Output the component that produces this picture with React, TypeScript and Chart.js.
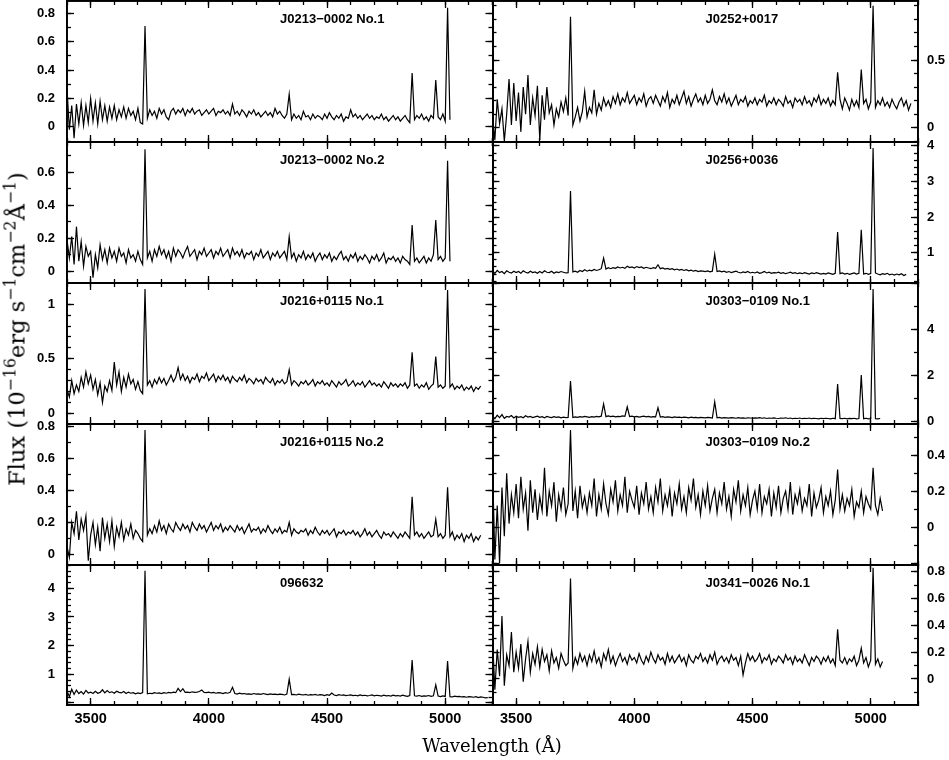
import React, { useEffect, useRef } from "react";
import { Chart, registerables } from "chart.js";
Chart.register(...registerables);

const PAGE_W = 949;
const PAGE_H = 760;

// wavelength sampling of every spectrum (Angstrom)
const WL_START = 3400;
const WL_STEP = 10;
const X_MIN = 3400;
const X_MAX = 5200;
const X_TICK_VALUES = [3500, 4000, 4500, 5000];
const X_MINOR = 100;

const TITLES = [
  "J0213\u22120002 No.1",
  "J0213\u22120002 No.2",
  "J0216+0115 No.1",
  "J0216+0115 No.2",
  "096632",
  "J0252+0017",
  "J0256+0036",
  "J0303\u22120109 No.1",
  "J0303\u22120109 No.2",
  "J0341\u22120026 No.1",
];

// each row = 100 A (10 samples), first row starts at 3400 A
const FLUX_J0213_1 = [
  0.27, -0.02, 0.15, -0.08, 0.16, 0.02, 0.17, 0.01, 0.15, 0.03,
  0.20, 0.04, 0.17, 0.02, 0.18, 0.05, 0.15, 0.04, 0.14, 0.06,
  0.15, 0.05, 0.12, 0.07, 0.14, 0.06, 0.13, 0.08, 0.11, 0.05,
  0.13, 0.03, 0.02, 0.71, 0.06, 0.12, 0.08, 0.11, 0.06, 0.13,
  0.09, 0.12, 0.07, 0.05, 0.11, 0.13, 0.09, 0.12, 0.10, 0.13,
  0.08, 0.12, 0.10, 0.13, 0.09, 0.11, 0.12, 0.08, 0.10, 0.12,
  0.09, 0.11, 0.13, 0.08, 0.11, 0.10, 0.12, 0.09, 0.11, 0.08,
  0.16, 0.09, 0.11, 0.08, 0.12, 0.10, 0.07, 0.11, 0.09, 0.12,
  0.08, 0.10, 0.07, 0.09, 0.11, 0.08, 0.10, 0.07, 0.13, 0.09,
  0.11, 0.08, 0.06, 0.09, 0.23, 0.05, 0.09, 0.06, 0.08, 0.05,
  0.11, 0.07, 0.08, 0.05, 0.09, 0.06, 0.08, 0.07, 0.05, 0.09,
  0.06, 0.10, 0.07, 0.05, 0.08, 0.06, 0.09, 0.04, 0.07, 0.06,
  0.12, 0.07, 0.09, 0.06, 0.08, 0.05, 0.07, 0.09, 0.06, 0.08,
  0.05, 0.07, 0.06, 0.09, 0.05, 0.07, 0.04, 0.06, 0.08, 0.05,
  0.07, 0.04, 0.06, 0.08, 0.05, 0.03, 0.38, 0.05, 0.08, 0.06,
  0.09, 0.05, 0.07, 0.04, 0.08, 0.06, 0.33, 0.07, 0.05, 0.09,
  0.04, 0.84, 0.05,
];

const FLUX_J0213_2 = [
  0.19, 0.08, 0.21, 0.04, 0.27, 0.06, 0.18, 0.03, 0.15, 0.09,
  0.12, -0.04, 0.10, 0.02, 0.16, 0.07, 0.13, 0.05, 0.14, 0.08,
  0.12, 0.06, 0.14, 0.09, 0.11, 0.05, 0.13, 0.08, 0.10, 0.06,
  0.12, 0.07, 0.04, 0.74, 0.08, 0.12, 0.06, 0.13, 0.09, 0.15,
  0.10, 0.13, 0.08, 0.12, 0.06, 0.14, 0.09, 0.13, 0.11, 0.08,
  0.12, 0.15, 0.09, 0.11, 0.13, 0.07, 0.12, 0.10, 0.14, 0.09,
  0.11, 0.13, 0.08, 0.12, 0.10, 0.14, 0.09, 0.11, 0.13, 0.08,
  0.14, 0.10, 0.12, 0.09, 0.13, 0.08, 0.11, 0.10, 0.12, 0.07,
  0.11, 0.09, 0.13, 0.08, 0.10, 0.12, 0.07, 0.11, 0.09, 0.12,
  0.08, 0.10, 0.12, 0.07, 0.21, 0.08, 0.11, 0.06, 0.10, 0.08,
  0.12, 0.07, 0.10, 0.08, 0.11, 0.06, 0.09, 0.11, 0.07, 0.10,
  0.08, 0.11, 0.06, 0.09, 0.07, 0.10, 0.12, 0.07, 0.09, 0.06,
  0.10, 0.08, 0.11, 0.06, 0.09, 0.07, 0.10, 0.08, 0.05, 0.09,
  0.07, 0.10, 0.06, 0.08, 0.11, 0.05, 0.08, 0.07, 0.09, 0.06,
  0.08, 0.05, 0.09, 0.07, 0.06, 0.04, 0.28, 0.06, 0.08, 0.05,
  0.07, 0.09, 0.05, 0.08, 0.06, 0.10, 0.31, 0.07, 0.09, 0.06,
  0.08, 0.67, 0.06,
];

const FLUX_J0216_1 = [
  0.22, 0.15, 0.30, 0.18, 0.26, 0.20, 0.33, 0.24, 0.38, 0.27,
  0.35, 0.22, 0.31, 0.17, 0.28, 0.10, 0.25, 0.20, 0.30, 0.21,
  0.47, 0.26, 0.38, 0.20, 0.33, 0.24, 0.36, 0.27, 0.31, 0.22,
  0.29, 0.21, 0.18, 1.14, 0.26, 0.30, 0.24, 0.31, 0.27, 0.33,
  0.28, 0.32, 0.26, 0.30, 0.35, 0.29, 0.33, 0.42, 0.31, 0.36,
  0.30, 0.34, 0.28, 0.33, 0.31, 0.36, 0.29, 0.34, 0.32, 0.37,
  0.30, 0.33, 0.36, 0.29, 0.34, 0.31, 0.35, 0.30, 0.33, 0.28,
  0.34, 0.31, 0.29, 0.33, 0.30, 0.35, 0.28, 0.32, 0.30, 0.27,
  0.32, 0.29, 0.31, 0.27, 0.33, 0.30, 0.28, 0.32, 0.26, 0.30,
  0.28, 0.31, 0.27, 0.29, 0.40, 0.26, 0.30, 0.28, 0.25, 0.29,
  0.27, 0.30, 0.26, 0.28, 0.31, 0.25, 0.29, 0.27, 0.30, 0.26,
  0.28, 0.25, 0.30, 0.27, 0.24, 0.29, 0.26, 0.28, 0.31, 0.25,
  0.27, 0.30, 0.25, 0.28, 0.26, 0.29, 0.24, 0.27, 0.30, 0.26,
  0.28, 0.25, 0.27, 0.24, 0.29, 0.26, 0.23, 0.28, 0.25, 0.27,
  0.24, 0.27, 0.25, 0.28, 0.23, 0.26, 0.56, 0.25, 0.27, 0.23,
  0.26, 0.24, 0.28, 0.22, 0.25, 0.27, 0.52, 0.24, 0.26, 0.23,
  0.25, 1.13, 0.24, 0.27, 0.22, 0.25, 0.23, 0.26, 0.21, 0.24,
  0.22, 0.25, 0.20, 0.24, 0.22, 0.25,
];

const FLUX_J0216_2 = [
  0.05, -0.02, 0.20, 0.13, 0.27, 0.09, 0.22, 0.15, 0.24, -0.04,
  0.12, 0.20, 0.06, 0.17, 0.02, 0.23, 0.10, 0.19, 0.08, 0.21,
  0.05, 0.17, 0.11, 0.20, 0.09, 0.16, 0.12, 0.19, 0.10, 0.15,
  0.13, 0.10, 0.08, 0.78, 0.12, 0.16, 0.13, 0.18, 0.14, 0.21,
  0.15, 0.18, 0.13, 0.19, 0.16, 0.14, 0.20, 0.17, 0.15, 0.19,
  0.16, 0.18, 0.14, 0.20, 0.17, 0.15, 0.19, 0.16, 0.18, 0.14,
  0.17, 0.20, 0.15, 0.18, 0.16, 0.19, 0.14, 0.17, 0.15, 0.18,
  0.16, 0.14, 0.18, 0.15, 0.17, 0.13, 0.16, 0.19, 0.14, 0.16,
  0.15, 0.17, 0.13, 0.16, 0.14, 0.18, 0.15, 0.13, 0.16, 0.14,
  0.17, 0.13, 0.15, 0.14, 0.20, 0.12, 0.16, 0.14, 0.13, 0.15,
  0.14, 0.16, 0.12, 0.15, 0.13, 0.17, 0.14, 0.12, 0.15, 0.13,
  0.15, 0.12, 0.14, 0.16, 0.11, 0.14, 0.13, 0.15, 0.12, 0.14,
  0.13, 0.15, 0.12, 0.14, 0.11, 0.13, 0.16, 0.12, 0.14, 0.11,
  0.13, 0.15, 0.12, 0.10, 0.14, 0.12, 0.13, 0.11, 0.14, 0.12,
  0.10, 0.13, 0.11, 0.14, 0.12, 0.10, 0.36, 0.12, 0.14, 0.11,
  0.13, 0.10, 0.12, 0.14, 0.11, 0.12, 0.22, 0.11, 0.13, 0.10,
  0.12, 0.42, 0.11, 0.14, 0.09, 0.12, 0.10, 0.13, 0.08, 0.12,
  0.10, 0.13, 0.08, 0.11, 0.09, 0.12,
];

const FLUX_096632 = [
  0.42, 0.22, 0.48, 0.30, 0.45, 0.33, 0.40, 0.31, 0.44, 0.35,
  0.38, 0.33, 0.41, 0.34, 0.37, 0.46, 0.35, 0.43, 0.36, 0.39,
  0.34, 0.41, 0.37, 0.35, 0.40, 0.33, 0.38, 0.34, 0.36, 0.32,
  0.35, 0.33, 0.36, 4.61, 0.32, 0.34, 0.33, 0.36, 0.34, 0.35,
  0.33, 0.36, 0.34, 0.37, 0.35, 0.38, 0.36, 0.51, 0.40, 0.50,
  0.37, 0.38, 0.36, 0.39, 0.37, 0.38, 0.40, 0.45, 0.37, 0.36,
  0.38, 0.35, 0.37, 0.34, 0.36, 0.35, 0.33, 0.36, 0.34, 0.37,
  0.55, 0.33, 0.31, 0.34, 0.32, 0.33, 0.31, 0.32, 0.30, 0.33,
  0.31, 0.32, 0.30, 0.33, 0.31, 0.29, 0.32, 0.30, 0.31, 0.29,
  0.31, 0.30, 0.28, 0.31, 0.83, 0.29, 0.30, 0.28, 0.31, 0.29,
  0.28, 0.30, 0.27, 0.29, 0.28, 0.30, 0.27, 0.29, 0.28, 0.26,
  0.29, 0.27, 0.35, 0.28, 0.26, 0.29, 0.27, 0.28, 0.26, 0.27,
  0.28, 0.26, 0.27, 0.25, 0.28, 0.26, 0.27, 0.25, 0.26, 0.28,
  0.25, 0.27, 0.26, 0.24, 0.27, 0.25, 0.26, 0.24, 0.27, 0.25,
  0.26, 0.24, 0.27, 0.25, 0.23, 0.26, 1.50, 0.25, 0.24, 0.26,
  0.23, 0.25, 0.24, 0.26, 0.23, 0.25, 0.63, 0.24, 0.22, 0.25,
  0.23, 1.46, 0.22, 0.21, 0.24, 0.22, 0.23, 0.21, 0.22, 0.20,
  0.22, 0.21, 0.20, 0.22, 0.19, 0.21, 0.20, 0.18, 0.19,
];

const FLUX_J0252 = [
  0.08, -0.09, 0.21, 0.03, 0.14, -0.10, 0.10, 0.36, 0.02, 0.33,
  0.05, 0.26, -0.03, 0.30, 0.10, 0.39, 0.02, 0.22, 0.09, 0.31,
  -0.09, 0.24, 0.06, 0.30, 0.11, 0.17, 0.02, 0.14, 0.08, 0.19,
  0.12, 0.22, 0.09, 0.82, 0.02, 0.08, 0.15, 0.05, 0.12, 0.27,
  0.08, 0.15, 0.11, 0.28, 0.10, 0.18, 0.13, 0.22, 0.16, 0.20,
  0.15, 0.23, 0.18, 0.25, 0.17, 0.22, 0.19, 0.26, 0.18, 0.21,
  0.24, 0.17, 0.22, 0.19, 0.25, 0.16, 0.21, 0.23, 0.18, 0.24,
  0.20, 0.16, 0.23, 0.19, 0.26, 0.15, 0.21, 0.18, 0.24, 0.17,
  0.22, 0.27, 0.18, 0.23, 0.16, 0.21, 0.25, 0.19, 0.22, 0.17,
  0.24, 0.18, 0.21, 0.28, 0.20, 0.17, 0.23, 0.19, 0.25, 0.18,
  0.22, 0.16, 0.20, 0.24, 0.17, 0.21, 0.19, 0.23, 0.16, 0.20,
  0.18, 0.22, 0.17, 0.21, 0.19, 0.24, 0.16, 0.20, 0.18, 0.22,
  0.17, 0.21, 0.19, 0.16, 0.23, 0.18, 0.20, 0.15, 0.22, 0.19,
  0.21, 0.17, 0.23, 0.18, 0.20, 0.16, 0.22, 0.19, 0.24, 0.17,
  0.21, 0.18, 0.22, 0.16, 0.20, 0.17, 0.41, 0.21, 0.14, 0.22,
  0.18, 0.13, 0.21, 0.16, 0.20, 0.15, 0.43, 0.18, 0.21, 0.14,
  0.19, 0.90, 0.15, 0.20, 0.17, 0.22, 0.16, 0.19, 0.15, 0.21,
  0.17, 0.14, 0.19, 0.22, 0.16, 0.20, 0.13, 0.18,
];

const FLUX_J0256 = [
  0.48, 0.42, 0.50, 0.44, 0.47, 0.41, 0.49, 0.45, 0.43, 0.48,
  0.44, 0.47, 0.42, 0.49, 0.45, 0.43, 0.48, 0.44, 0.46, 0.42,
  0.47, 0.43, 0.49, 0.45, 0.44, 0.48, 0.42, 0.46, 0.44, 0.47,
  0.45, 0.43, 0.44, 2.73, 0.46, 0.48, 0.45, 0.50, 0.47, 0.52,
  0.48, 0.51, 0.49, 0.53, 0.50, 0.52, 0.55, 0.85, 0.54, 0.58,
  0.55, 0.58, 0.56, 0.60, 0.57, 0.59, 0.56, 0.62, 0.58, 0.60,
  0.57, 0.61, 0.58, 0.60, 0.56, 0.59, 0.57, 0.55, 0.58, 0.56,
  0.66, 0.55, 0.57, 0.54, 0.56, 0.53, 0.55, 0.52, 0.54, 0.51,
  0.53, 0.50, 0.52, 0.49, 0.51, 0.48, 0.50, 0.47, 0.49, 0.48,
  0.47, 0.49, 0.46, 0.48, 0.96, 0.47, 0.49, 0.46, 0.48, 0.45,
  0.47, 0.44, 0.46, 0.48, 0.45, 0.43, 0.46, 0.44, 0.47, 0.43,
  0.45, 0.43, 0.46, 0.42, 0.44, 0.47, 0.43, 0.45, 0.42, 0.44,
  0.43, 0.45, 0.42, 0.44, 0.41, 0.43, 0.45, 0.42, 0.44, 0.41,
  0.43, 0.41, 0.44, 0.42, 0.40, 0.43, 0.41, 0.44, 0.42, 0.40,
  0.42, 0.40, 0.43, 0.41, 0.39, 0.42, 1.58, 0.41, 0.43, 0.40,
  0.42, 0.39, 0.41, 0.43, 0.40, 0.42, 1.64, 0.40, 0.42, 0.39,
  0.41, 3.94, 0.43, 0.40, 0.38, 0.41, 0.39, 0.42, 0.38, 0.40,
  0.37, 0.40, 0.38, 0.41, 0.36, 0.39,
];

const FLUX_J0303_1 = [
  0.22, 0.10, 0.25, 0.15, 0.28, 0.12, 0.20, 0.17, 0.24, 0.13,
  0.21, 0.16, 0.19, 0.14, 0.23, 0.17, 0.20, 0.15, 0.18, 0.21,
  0.16, 0.19, 0.14, 0.20, 0.17, 0.15, 0.19, 0.16, 0.18, 0.14,
  0.17, 0.15, 0.16, 1.74, 0.15, 0.18, 0.16, 0.19, 0.17, 0.20,
  0.18, 0.16, 0.19, 0.17, 0.20, 0.18, 0.21, 0.74, 0.19, 0.22,
  0.19, 0.21, 0.18, 0.20, 0.19, 0.22, 0.20, 0.62, 0.19, 0.21,
  0.18, 0.20, 0.17, 0.19, 0.21, 0.18, 0.20, 0.17, 0.19, 0.18,
  0.58, 0.17, 0.19, 0.16, 0.18, 0.17, 0.15, 0.18, 0.16, 0.17,
  0.15, 0.17, 0.16, 0.14, 0.17, 0.15, 0.16, 0.14, 0.16, 0.15,
  0.14, 0.16, 0.15, 0.13, 0.83, 0.14, 0.16, 0.13, 0.15, 0.14,
  0.13, 0.15, 0.14, 0.12, 0.15, 0.13, 0.14, 0.12, 0.14, 0.13,
  0.12, 0.14, 0.13, 0.15, 0.12, 0.14, 0.11, 0.13, 0.12, 0.14,
  0.12, 0.11, 0.13, 0.12, 0.14, 0.11, 0.13, 0.10, 0.12, 0.11,
  0.13, 0.10, 0.12, 0.11, 0.13, 0.10, 0.12, 0.11, 0.09, 0.12,
  0.10, 0.12, 0.11, 0.09, 0.12, 0.10, 1.61, 0.11, 0.10, 0.12,
  0.09, 0.11, 0.10, 0.12, 0.09, 0.11, 2.00, 0.10, 0.12, 0.09,
  0.11, 5.74, 0.10, 0.09, 0.11,
];

const FLUX_J0303_2 = [
  0.35, -0.18, 0.12, -0.20, 0.22, -0.05, 0.30, 0.02, 0.18, 0.08,
  0.24, 0.05, 0.28, 0.10, 0.19, -0.02, 0.26, 0.08, 0.21, 0.04,
  0.17, 0.09, 0.33, 0.06, 0.20, 0.12, 0.25, 0.03, 0.18, 0.10,
  0.22, 0.07, 0.13, 0.54, 0.09, 0.20, 0.05, 0.23, 0.11, 0.17,
  0.08, 0.19, 0.12, 0.27, 0.06, 0.18, 0.10, 0.24, 0.13, 0.07,
  0.21, 0.14, 0.26, 0.09, 0.18, 0.12, 0.28, 0.08, 0.20, 0.15,
  0.11, 0.23, 0.07, 0.19, 0.13, 0.25, 0.10, 0.17, 0.08, 0.22,
  0.14, 0.27, 0.09, 0.18, 0.12, 0.21, 0.06, 0.19, 0.13, 0.24,
  0.10, 0.17, 0.08, 0.22, 0.15, 0.27, 0.11, 0.18, 0.07, 0.20,
  0.12, 0.23, 0.09, 0.16, 0.21, 0.08, 0.19, 0.13, 0.25, 0.10,
  0.17, 0.06, 0.21, 0.14, 0.26, 0.09, 0.18, 0.12, 0.22, 0.07,
  0.15, 0.20, 0.10, 0.24, 0.08, 0.17, 0.13, 0.21, 0.06, 0.19,
  0.11, 0.23, 0.08, 0.16, 0.20, 0.10, 0.25, 0.07, 0.18, 0.13,
  0.21, 0.09, 0.16, 0.12, 0.24, 0.06, 0.19, 0.11, 0.15, 0.22,
  0.08, 0.17, 0.12, 0.20, 0.07, 0.15, 0.32, 0.10, 0.18, 0.09,
  0.16, 0.12, 0.21, 0.06, 0.14, 0.11, 0.20, 0.08, 0.17, 0.13,
  0.10, 0.33, 0.12, 0.07, 0.16, 0.09,
];

const FLUX_J0341 = [
  0.30, -0.08, 0.22, 0.02, 0.47, -0.05, 0.18, 0.10, 0.35, 0.05,
  0.20, 0.08, 0.26, -0.02, 0.15, 0.28, 0.05, 0.19, 0.11, 0.24,
  0.09, 0.22, 0.13, 0.18, 0.06, 0.21, 0.12, 0.16, 0.08, 0.19,
  0.14, 0.10, 0.12, 0.75, 0.08, 0.16, 0.11, 0.19, 0.13, 0.17,
  0.10, 0.18, 0.13, 0.21, 0.12, 0.16, 0.09, 0.19, 0.14, 0.22,
  0.12, 0.17, 0.10, 0.15, 0.19, 0.13, 0.16, 0.11, 0.18, 0.14,
  0.16, 0.12, 0.19, 0.14, 0.11, 0.17, 0.13, 0.20, 0.15, 0.12,
  0.18, 0.14, 0.16, 0.11, 0.19, 0.13, 0.17, 0.12, 0.15, 0.18,
  0.13, 0.16, 0.10, 0.18, 0.14, 0.12, 0.17, 0.15, 0.19, 0.13,
  0.16, 0.12, 0.18, 0.14, 0.20, 0.11, 0.15, 0.17, 0.13, 0.16,
  0.12, 0.18, 0.14, 0.16, 0.10, 0.17, 0.03, 0.12, 0.19, 0.14,
  0.17, 0.13, 0.15, 0.19, 0.12, 0.16, 0.14, 0.18, 0.11, 0.15,
  0.13, 0.17, 0.15, 0.12, 0.18, 0.14, 0.16, 0.11, 0.17, 0.13,
  0.15, 0.12, 0.18, 0.14, 0.10, 0.16, 0.13, 0.17, 0.15, 0.11,
  0.16, 0.13, 0.17, 0.12, 0.15, 0.10, 0.37, 0.14, 0.12, 0.16,
  0.11, 0.15, 0.13, 0.17, 0.10, 0.14, 0.23, 0.12, 0.16, 0.09,
  0.14, 0.83, 0.11, 0.15, 0.09, 0.13,
];

const SPECTRA = [
  FLUX_J0213_1, FLUX_J0213_2, FLUX_J0216_1, FLUX_J0216_2, FLUX_096632,
  FLUX_J0252, FLUX_J0256, FLUX_J0303_1, FLUX_J0303_2, FLUX_J0341,
];

// y-axis ranges and tick steps per panel
const Y_MIN = [-0.107, -0.072, -0.098, -0.067, -0.07, -0.105, 0.148, -0.13, -0.21, -0.194];
const Y_MAX = [0.887, 0.784, 1.195, 0.817, 4.81, 0.936, 4.11, 6.0, 0.573, 0.85];
const Y_MAJOR = [0.2, 0.2, 0.5, 0.2, 1, 0.5, 1, 2, 0.2, 0.2];
const Y_MINOR = [0.1, 0.1, 0.1, 0.1, 0.2, 0.1, 0.2, 1, 0.1, 0.1];

// layout (pixels)
const COL_X = [
  [67, 492.5],
  [492.5, 918],
];
const ROW_Y = [1, 142, 283, 424, 565, 705];

const fmt = (v: number) => String(Math.round(v * 100) / 100);

function makeConfig(p: number): any {
  const col = p < 5 ? 0 : 1;
  const row = p % 5;
  const left = COL_X[col][0];
  const right = COL_X[col][1];
  const top = ROW_Y[row];
  const bottom = ROW_Y[row + 1];
  const h = bottom - top;
  const yMin = Y_MIN[p];
  const yMax = Y_MAX[p];
  const data = SPECTRA[p].map((f, i) => ({ x: WL_START + i * WL_STEP, y: f }));

  const margins: Record<string, number> = {
    left,
    right: PAGE_W - right,
    top,
    bottom: PAGE_H - bottom,
  };

  // major axes fill the whole margin (so their labels are not clipped), minor axes collapse
  const sizeTo = (size: number | null) => (s: any) => {
    const v = size === null ? margins[s.options.position] : size;
    if (s.isHorizontal()) s.height = v;
    else s.width = v;
    s.paddingLeft = 0;
    s.paddingRight = 0;
    s.paddingTop = 0;
    s.paddingBottom = 0;
  };

  const border = { display: true, color: "#000", width: 1.8 };
  const grid = (len: number) => ({
    display: true,
    drawOnChartArea: false,
    drawTicks: true,
    tickLength: -len,
    tickWidth: 1.3,
    tickColor: "#000",
  });

  const yLabel = (v: number) => {
    const frac = (v - yMin) / (yMax - yMin);
    if (frac * h < 2.6 || (1 - frac) * h < 2.6) return "";
    return fmt(v);
  };

  const xAxis = (position: string, len: number, labels: boolean, major: boolean) => ({
    type: "linear",
    axis: "x",
    position,
    min: X_MIN,
    max: X_MAX,
    weight: major ? 1 : 0,
    afterFit: sizeTo(major ? null : 0),
    afterBuildTicks: major
      ? (s: any) => {
          s.ticks = X_TICK_VALUES.map((v) => ({ value: v }));
        }
      : undefined,
    border,
    grid: grid(len),
    ticks: {
      display: labels,
      stepSize: X_MINOR,
      includeBounds: false,
      autoSkip: false,
      maxRotation: 0,
      minRotation: 0,
      padding: 12,
      color: "#000",
      font: { family: "'Liberation Sans', Arial, sans-serif", weight: "bold", size: 14.5 },
      callback: (v: number) => String(v),
    },
  });

  const yAxis = (position: string, step: number, len: number, labels: boolean, major: boolean) => ({
    type: "linear",
    axis: "y",
    position,
    min: yMin,
    max: yMax,
    weight: major ? 1 : 0,
    afterFit: sizeTo(major ? null : 0),
    border,
    grid: grid(len),
    ticks: {
      display: labels,
      stepSize: step,
      includeBounds: false,
      autoSkip: false,
      padding: position === "left" ? 19 : 16,
      color: "#000",
      font: { family: "'Liberation Sans', Arial, sans-serif", weight: "bold", size: 13 },
      callback: yLabel,
    },
  });

  const titlePlugin = {
    id: "panelTitle",
    afterDraw(chart: any) {
      const ctx = chart.ctx;
      ctx.save();
      ctx.font = "bold 13px 'Liberation Sans', Arial, sans-serif";
      ctx.fillStyle = "#000";
      ctx.textAlign = "left";
      ctx.textBaseline = "middle";
      ctx.fillText(TITLES[p], chart.chartArea.left + 213, chart.chartArea.top + 18);
      ctx.restore();
    },
  };

  return {
    type: "line",
    data: {
      datasets: [
        {
          label: TITLES[p],
          data,
          xAxisID: "x",
          yAxisID: "y",
          borderColor: "#000",
          borderWidth: 1.2,
          pointRadius: 0,
          tension: 0,
          fill: false,
        },
      ],
    },
    options: {
      responsive: false,
      animation: false,
      devicePixelRatio: 1,
      layout: { autoPadding: false, padding: 0 },
      plugins: { legend: { display: false }, tooltip: { enabled: false }, title: { display: false } },
      events: [],
      scales: {
        x: xAxis("bottom", 7, row === 4, true),
        xMinor: xAxis("bottom", 4, false, false),
        xTop: xAxis("top", 7, false, true),
        xTopMinor: xAxis("top", 4, false, false),
        y: yAxis("left", Y_MAJOR[p], 7, col === 0, true),
        yMinor: yAxis("left", Y_MINOR[p], 4, false, false),
        yRight: yAxis("right", Y_MAJOR[p], 7, col === 1, true),
        yRightMinor: yAxis("right", Y_MINOR[p], 4, false, false),
      },
    },
    plugins: [titlePlugin],
  };
}

function Panel({ index }: { index: number }) {
  const ref = useRef<HTMLCanvasElement>(null);
  useEffect(() => {
    const chart = new Chart(ref.current as HTMLCanvasElement, makeConfig(index));
    return () => chart.destroy();
  }, [index]);
  return (
    <canvas
      ref={ref}
      width={PAGE_W}
      height={PAGE_H}
      style={{ position: "absolute", left: 0, top: 0, width: PAGE_W, height: PAGE_H }}
    />
  );
}

export default function App() {
  return (
    <div
      style={{
        position: "absolute",
        left: 0,
        top: 0,
        width: PAGE_W,
        height: PAGE_H,
        background: "#fff",
        overflow: "hidden",
      }}
    >
      {SPECTRA.map((_, i) => (
        <Panel key={i} index={i} />
      ))}
      <div
        style={{
          position: "absolute",
          left: 15,
          top: 329,
          transform: "translate(-50%, -50%) rotate(-90deg)",
          whiteSpace: "nowrap",
          fontFamily: "'DejaVu Serif', serif",
          fontSize: 22.5,
          lineHeight: 1,
          color: "#000",
        }}
      >
        Flux (10<sup style={{ fontSize: "0.7em" }}>{"\u221216"}</sup>erg s<sup style={{ fontSize: "0.7em" }}>{"\u22121"}</sup>cm
        <sup style={{ fontSize: "0.7em" }}>{"\u22122"}</sup>Å<sup style={{ fontSize: "0.7em" }}>{"\u22121"}</sup>)
      </div>
      <div
        style={{
          position: "absolute",
          left: 492,
          top: 746,
          transform: "translate(-50%, -50%)",
          whiteSpace: "nowrap",
          fontFamily: "'DejaVu Serif', serif",
          fontSize: 18,
          lineHeight: 1,
          color: "#000",
        }}
      >
        Wavelength (Å)
      </div>
    </div>
  );
}
